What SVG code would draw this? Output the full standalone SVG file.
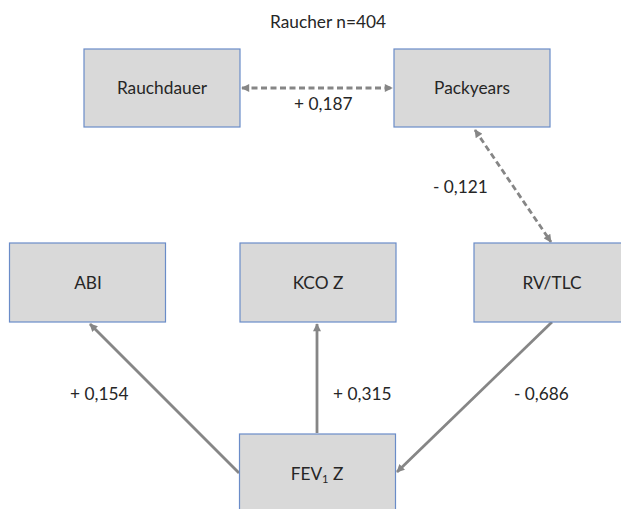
<svg xmlns="http://www.w3.org/2000/svg" width="621" height="509" viewBox="0 0 621 509">
<style>
.box{fill:#d9d9d9;stroke:#6a8cc8;stroke-width:1.2}
.t{font-family:Lato,"Liberation Sans",sans-serif;font-size:17.3px;fill:#262626;text-anchor:middle}
.l{font-family:Lato,"Liberation Sans",sans-serif;font-size:17.3px;fill:#262626}
.c{stroke:#868686;stroke-width:2.8;fill:none}
.d{stroke-dasharray:6 3.5}
</style>
<defs>
<marker id="ah" viewBox="0 0 10 10" refX="9" refY="5" markerUnits="userSpaceOnUse" markerWidth="9" markerHeight="8" orient="auto-start-reverse">
<path d="M0,0 L10,5 L0,10 Z" fill="#868686"/>
</marker>
</defs>
<rect width="621" height="509" fill="#ffffff"/>
<text class="t" x="328" y="28">Raucher n=404</text>
<g id="connectors">
<line class="c d" x1="242" y1="88" x2="392" y2="88" marker-start="url(#ah)" marker-end="url(#ah)"/>
<line class="c d" x1="475" y1="130" x2="551" y2="242" marker-start="url(#ah)" marker-end="url(#ah)"/>
<line class="c" x1="239" y1="473" x2="90" y2="324" marker-end="url(#ah)"/>
<line class="c" x1="317" y1="433" x2="317" y2="324" marker-end="url(#ah)"/>
<line class="c" x1="552" y1="322" x2="397" y2="472" marker-end="url(#ah)"/>
<text class="l" x="294" y="110">+ 0,187</text>
<text class="l" x="433" y="193">- 0,121</text>
<text class="l" x="70" y="400">+ 0,154</text>
<text class="l" x="333" y="400">+ 0,315</text>
<text class="l" x="514" y="400">- 0,686</text>
</g>
<g id="rauchdauer">
<rect class="box" x="84" y="49" width="156" height="78"/>
<text class="t" x="162" y="94">Rauchdauer</text>
</g>
<g id="packyears">
<rect class="box" x="394" y="49" width="156" height="78"/>
<text class="t" x="472" y="94">Packyears</text>
</g>
<g id="abi">
<rect class="box" x="9.5" y="243" width="156" height="79"/>
<text class="t" x="88" y="289">ABI</text>
</g>
<g id="kcoz">
<rect class="box" x="240" y="243" width="156" height="79"/>
<text class="t" x="318" y="289">KCO Z</text>
</g>
<g id="rvtlc">
<rect class="box" x="474" y="243" width="156" height="79"/>
<text class="t" x="552" y="289">RV/TLC</text>
</g>
<g id="fev1z">
<rect class="box" x="239.5" y="434" width="156" height="80"/>
<text class="t" x="317" y="480">FEV<tspan font-size="11" dy="3">1</tspan><tspan dy="-3"> Z</tspan></text>
</g>
</svg>
